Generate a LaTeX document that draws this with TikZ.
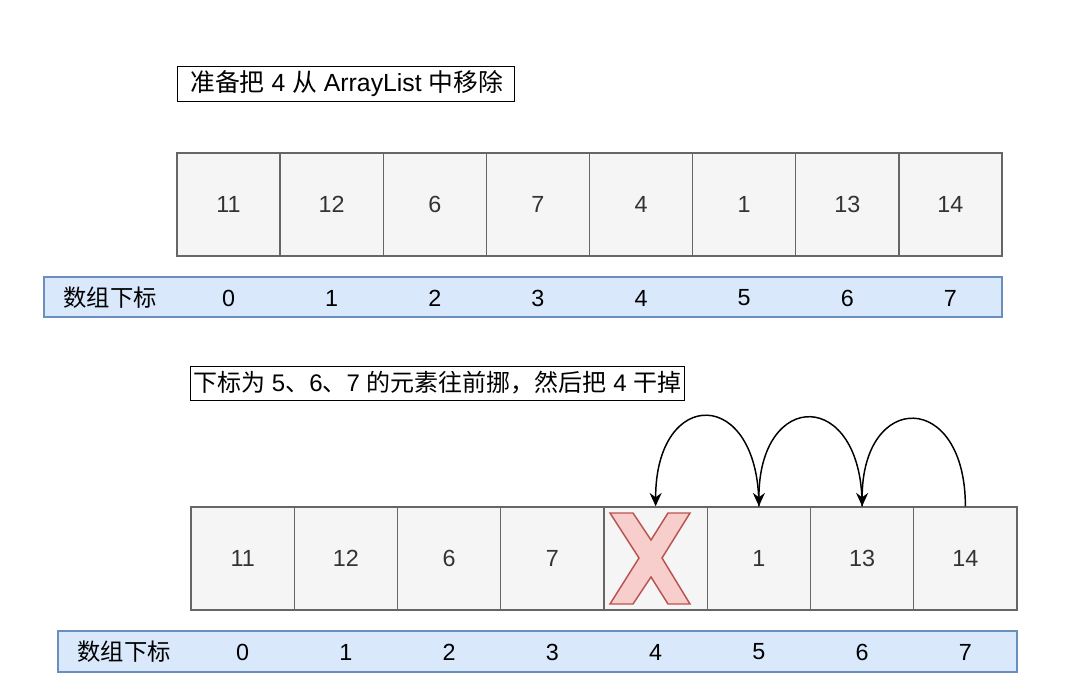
\documentclass[tikz,border=0pt]{standalone}
\usepackage{fontspec}
\setmainfont{Liberation Sans}
\newfontfamily\cjk{Noto Sans CJK SC}
\usetikzlibrary{arrows.meta}
\definecolor{cellfill}{HTML}{F5F5F5}
\definecolor{cellline}{HTML}{666666}
\definecolor{celltext}{HTML}{333333}
\definecolor{idxfill}{HTML}{DAE8FC}
\definecolor{idxline}{HTML}{6C8EBF}
\definecolor{xfill}{HTML}{F8CECC}
\definecolor{xline}{HTML}{B85450}
\tikzset{
  every node/.style={font=\fontsize{17.5}{21}\selectfont},
  cellbox/.style={draw=cellline, fill=cellfill, line width=1.1pt, text=celltext, inner sep=0pt},
  idxbar/.style={draw=idxline, fill=idxfill, line width=1.1pt},
  titlebox/.style={draw=black, line width=1.1pt, inner sep=0pt, anchor=north west},
  titletext/.style={inner sep=0pt, anchor=west, font=\fontsize{18.6}{22}\selectfont},
  idxlabel/.style={text=black, inner sep=0pt},
  hop/.style={draw=black, line width=1.1pt, -{Stealth[length=10pt,width=9pt]}},
  cross/.style={draw=xline, fill=xfill, line width=1.1pt},
}
\begin{document}
\begin{tikzpicture}[x=0.75pt,y=-0.75pt]
\useasboundingbox (0,0) rectangle (1080,695);
% ---------- top part ----------
\node[titlebox, minimum width={337*0.75pt}, minimum height={35*0.75pt}] (t1) at (177,66) {};
\node[titletext] (t1l) at (190,84)
  {{\cjk 准备把} 4 {\cjk 从} ArrayList {\cjk 中移除}};
\foreach \v [count=\i from 0] in {11,12,6,7,4,1,13,14} {
  \node[cellbox, minimum width={103.125*0.75pt}, minimum height={103*0.75pt}]
    (c\i) at ({177+103.125*\i+51.56},204.5) {\v};
}
\node[idxbar, minimum width={958*0.75pt}, minimum height={40*0.75pt}, inner sep=0pt] (b1) at (523,297) {};
\node[idxlabel] (b1l) at (110,298) {\cjk 数组下标};
\foreach \i in {0,...,7} {
  \node[idxlabel] (b1n\i) at ({177+103.125*\i+51.56},298) {\i};
}
% ---------- bottom part ----------
\node[titlebox, minimum width={494*0.75pt}, minimum height={34*0.75pt}] (t2) at (190,366) {};
\node[titletext, font=\fontsize{18}{22}\selectfont] (t2l) at (193,383)
  {{\cjk 下标为} 5{\cjk 、}6{\cjk 、}7 {\cjk 的元素往前挪，然后把} 4 {\cjk 干掉}};
\foreach \v [count=\i from 0] in {11,12,6,7,{},1,13,14} {
  \node[cellbox, minimum width={103.25*0.75pt}, minimum height={103*0.75pt}]
    (d\i) at ({191+103.25*\i+51.625},558.5) {\v};
}
\node[idxbar, minimum width={959*0.75pt}, minimum height={41*0.75pt}, inner sep=0pt] (b2) at (537.5,651.5) {};
\node[idxlabel] (b2l) at (124,652) {\cjk 数组下标};
\foreach \i in {0,...,7} {
  \node[idxlabel] (b2n\i) at ({191+103.25*\i+51.625},652) {\i};
}
% red cross in slot 4
\draw[cross] (610,513) -- (633,513) -- (651,540) -- (668,513) -- (690,513) -- (662,558)
  -- (690,604) -- (668,604) -- (651,577) -- (633,604) -- (610,604) -- (639,558) -- cycle;
% shifting arrows
\draw[hop] (d7.north) .. controls +(0,-116) and +(0,-116) .. (d6.north);
\draw[hop] (d6.north) .. controls +(0,-118) and +(0,-118) .. (d5.north);
\draw[hop] (d5.north) .. controls +(0,-120) and +(0,-120) .. (d4.north);
\end{tikzpicture}
\end{document}
